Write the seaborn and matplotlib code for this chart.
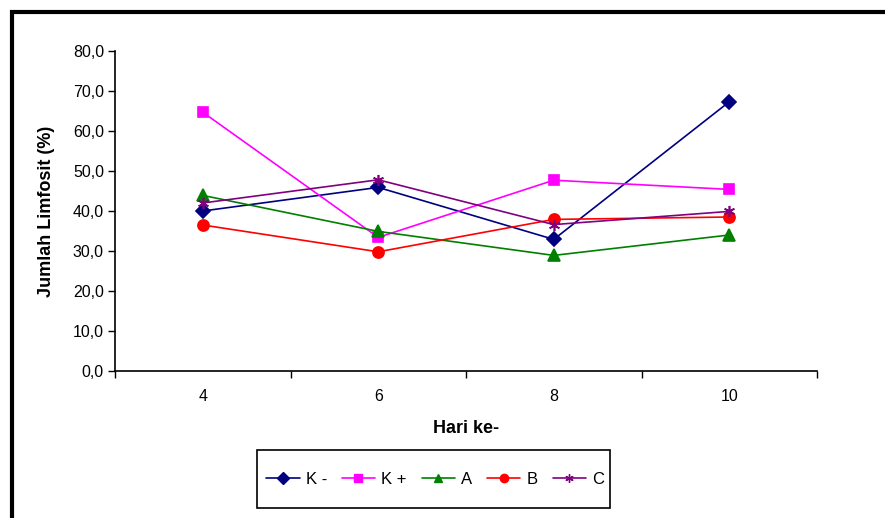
import numpy as np
import pandas as pd
import seaborn as sns
import matplotlib
matplotlib.use("Agg")
import matplotlib.pyplot as plt
from matplotlib.patches import Rectangle
from matplotlib.ticker import FuncFormatter, FixedLocator

# data
hari = ["4", "6", "8", "10"]
k_minus = [40.0, 45.9, 32.9, 67.3]
k_plus = [64.7, 33.4, 47.7, 45.4]
grp_a = [43.9, 34.9, 28.9, 34.0]
grp_b = [36.5, 29.8, 37.9, 38.5]
grp_c = [42.0, 47.8, 36.6, 39.9]

groups = ["K -", "K +", "A", "B", "C"]
values = [k_minus, k_plus, grp_a, grp_b, grp_c]
colors = ["#000080", "#FF00FF", "#008000", "#FF0000", "#800080"]
markers = ["D", "s", "^", "o", (6, 2, 0)]
msizes = [7.5, 7.5, 8.5, 8, 8]

rows = []
for g, vals in zip(groups, values):
    for h, v in zip(hari, vals):
        rows.append({"Hari ke-": h, "val": v, "grp": g})
df = pd.DataFrame(rows)

sns.set_style("white")
plt.rcParams["font.family"] = ["Liberation Sans", "DejaVu Sans"]
for k in ["text.color", "axes.labelcolor", "xtick.color", "ytick.color"]:
    plt.rcParams[k] = "black"

fig = plt.figure(figsize=(8.85, 5.18), dpi=100)
ax = fig.add_axes([115 / 885, 1 - 371 / 518, 702 / 885, 320 / 518])

handles = []
for g, c, m, ms in zip(groups, colors, markers, msizes):
    sub = df[df["grp"] == g]
    sns.lineplot(data=sub, x="Hari ke-", y="val", ax=ax, color=c,
                 marker=m, markersize=ms, markeredgecolor=c, markeredgewidth=1.2,
                 linewidth=1.2, sort=False)
    handles.append(plt.Line2D([], [], color=c, marker=m, markersize=ms * 0.75,
                              markeredgecolor=c, linewidth=1.2))

ax.set_xlim(-0.5, 3.5)
ax.set_ylim(0, 80)
ax.set_yticks(np.arange(0, 81, 10))
ax.yaxis.set_major_formatter(FuncFormatter(lambda v, p: f"{v:.1f}".replace(".", ",")))
ax.set_xticks(range(len(hari)))
ax.set_xticklabels(hari)
ax.xaxis.set_minor_locator(FixedLocator(np.arange(-0.5, 3.6, 1.0)))
ax.tick_params(axis="x", which="major", length=0, pad=13, labelsize=11.5)
ax.tick_params(axis="x", which="minor", length=5, width=1, direction="out", bottom=True)
ax.tick_params(axis="y", length=5, width=1, direction="out", left=True, labelsize=11.5, pad=3)

for s in ["top", "right"]:
    ax.spines[s].set_visible(False)
for s in ["left", "bottom"]:
    ax.spines[s].set_color("black")
    ax.spines[s].set_linewidth(1.2)

ax.set_xlabel("Hari ke-", fontsize=13, fontweight="bold")
ax.set_ylabel("Jumlah Limfosit (%)", fontsize=13, fontweight="bold")
ax.xaxis.set_label_coords(0.5, -0.153)
ax.yaxis.set_label_coords(-0.085, 0.5)

leg = fig.legend(handles, groups, loc="center", bbox_to_anchor=(435 / 885, 1 - 479 / 518),
                 ncol=5, frameon=False, fontsize=12, handlelength=2.0,
                 columnspacing=0.9, handletextpad=0.36, borderaxespad=0)

# legend box and outer chart border
fig.patches.append(Rectangle((257 / 885, 1 - 508 / 518), 353 / 885, 58 / 518,
                             transform=fig.transFigure, fill=False,
                             edgecolor="black", linewidth=1.2))
fig.patches.append(Rectangle((12 / 885, -0.2), 1.2, 1.2 - 12 / 518,
                             transform=fig.transFigure, fill=False,
                             edgecolor="black", linewidth=3, clip_on=False))

fig.savefig("out.png", dpi=100)
